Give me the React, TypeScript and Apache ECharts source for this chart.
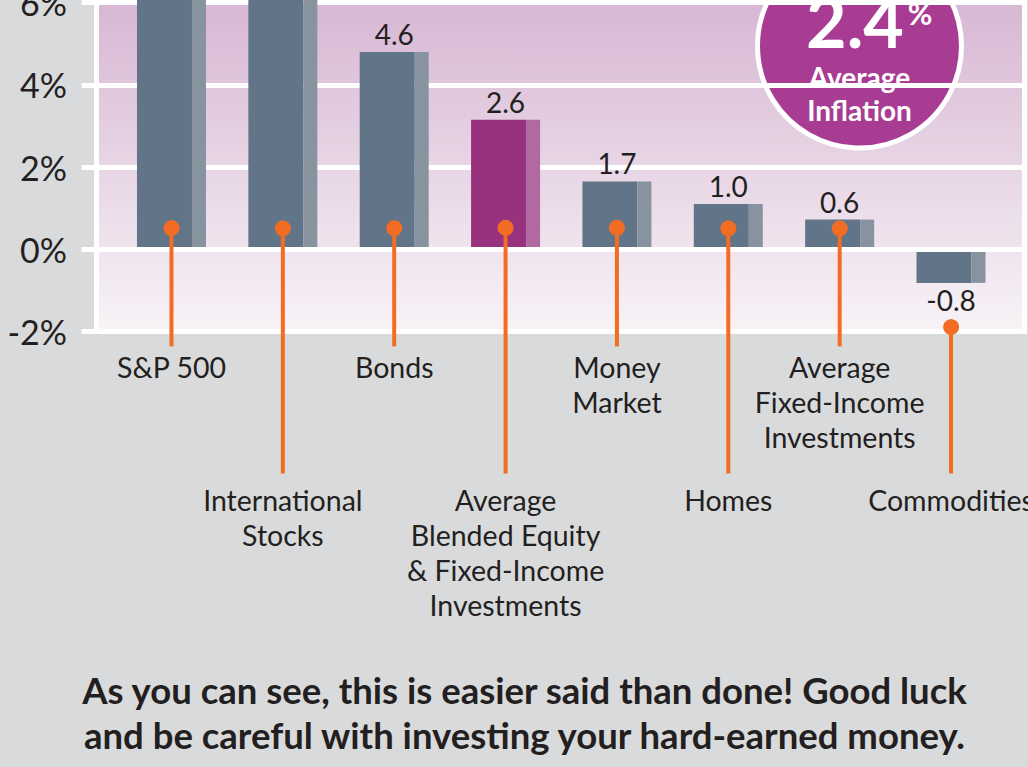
import React, { useEffect, useRef } from 'react';
import * as echarts from 'echarts';

// ---- data ----
const categories = [
  'S&P 500',
  'International\nStocks',
  'Bonds',
  'Average\nBlended Equity\n& Fixed-Income\nInvestments',
  'Money\nMarket',
  'Homes',
  'Average\nFixed-Income\nInvestments',
  'Commodities',
];
// bar heights as drawn (%)
const barHeights = [7.7, 6.6, 4.8, 3.15, 1.65, 1.1, 0.72, -0.82];
// printed value labels (first two are cut off in the picture)
const valueLabels: (string | null)[] = [null, null, '4.6', '2.6', '1.7', '1.0', '0.6', '-0.8'];
const highlightIndex = 3;
const yMin = -2;
const yMax = 6.3;
const yInterval = 2;
const averageInflation = '2.4';
const footnoteLines = [
  'As you can see, this is easier said than done! Good luck',
  'and be careful with investing your hard-earned money.',
];

// ---- styles ----
const BG = '#d9dadc';
const DARK = '#627487';
const LIGHT = '#8893a0';
const PURPLE = '#98327f';
const PURPLE_LIGHT = '#b06aa0';
const ORANGE = '#f26c23';
const INK = '#231f20';
const FONT = 'Lato';

export default function App() {
  const ref = useRef<HTMLDivElement>(null);

  useEffect(() => {
    const chart = echarts.init(ref.current!, null, { renderer: 'svg' });

    const top = -9.73;
    const bottom = 435.6;

    const darkData = barHeights.map((v, i) => ({
      value: v,
      itemStyle: { color: i === highlightIndex ? PURPLE : DARK },
      label: valueLabels[i] == null
        ? { show: false }
        : { show: true, position: v < 0 ? 'bottom' : 'top', distance: v < 0 ? 3 : 4 },
    }));
    const lightData = barHeights.map((v, i) => ({
      value: v,
      itemStyle: { color: i === highlightIndex ? PURPLE_LIGHT : LIGHT },
    }));

    const option: any = {
      animation: false,
      backgroundColor: BG,
      grid: [
        {
          left: 96.5, right: 3.5, top, bottom,
          show: true,
          borderColor: '#ffffff',
          borderWidth: 5,
          backgroundColor: new echarts.graphic.LinearGradient(0, 0, 0, 1, [
            { offset: 0, color: '#d6b5d2' },
            { offset: 1, color: '#f8f3f7' },
          ]),
          containLabel: false,
          outerBoundsMode: 'none',
        },
        {
          left: 115.8, right: 21.3, top, bottom,
          containLabel: false,
          outerBoundsMode: 'none',
        },
      ],
      xAxis: [
        { type: 'category', gridIndex: 0, data: categories, show: false },
        {
          type: 'category',
          gridIndex: 1,
          data: categories,
          axisLine: { show: false },
          axisTick: { show: false },
          axisLabel: {
            interval: 0,
            margin: 18,
            color: INK,
            fontFamily: FONT,
            fontSize: 28.5,
            lineHeight: 35,
            formatter: (val: string, idx: number) =>
              idx % 2 === 1 ? '{g| }\n' + val : val,
            rich: { g: { lineHeight: 133, fontSize: 10 } },
          },
        },
      ],
      yAxis: [
        {
          type: 'value', gridIndex: 0, min: yMin, max: yMax, interval: yInterval,
          axisLine: { show: false },
          axisTick: { show: true, length: 15, lineStyle: { color: '#ffffff', width: 5 } },
          splitLine: { show: true, lineStyle: { color: '#ffffff', width: 5 } },
          axisLabel: {
            formatter: '{value}%',
            showMaxLabel: false,
            margin: 29.5,
            color: INK,
            fontFamily: FONT,
            fontSize: 34,
          },
        },
        {
          type: 'value', gridIndex: 1, min: yMin, max: yMax, interval: yInterval,
          show: false, splitLine: { show: false },
        },
      ],
      series: [
        {
          type: 'bar',
          xAxisIndex: 1, yAxisIndex: 1,
          barWidth: 55,
          barGap: '0%',
          data: darkData,
          label: {
            offset: [7, 0],
            color: INK,
            fontFamily: FONT,
            fontSize: 28,
            formatter: (p: any) => valueLabels[p.dataIndex] ?? '',
          },
        },
        {
          type: 'bar',
          xAxisIndex: 1, yAxisIndex: 1,
          barWidth: 14,
          barGap: '0%',
          data: lightData,
          markLine: {
            silent: true,
            symbol: 'none',
            label: { show: false },
            lineStyle: { color: '#ffffff', width: 5, type: 'solid' },
            data: [{ yAxis: 0 }],
          },
        },
        {
          type: 'custom',
          xAxisIndex: 1, yAxisIndex: 1,
          z: 10,
          clip: false,
          data: barHeights.map((v, i) => [i, v]),
          renderItem: (params: any, api: any) => {
            const i = api.value(0);
            const v = api.value(1);
            const x = api.coord([i, 0])[0];
            const zeroY = api.coord([i, 0])[1];
            const baseY = api.coord([i, yMin])[1];
            const dotY = v >= 0 ? zeroY - 22 : api.coord([i, v])[1] + 43;
            const endY = baseY + (i % 2 === 0 ? 15 : 142);
            return {
              type: 'group',
              children: [
                { type: 'line', shape: { x1: x, y1: dotY, x2: x, y2: endY }, style: { stroke: ORANGE, lineWidth: 4 } },
                { type: 'circle', shape: { cx: x, cy: dotY, r: 8 }, style: { fill: ORANGE } },
              ],
            };
          },
        },
      ],
      graphic: [
        {
          type: 'group',
          children: [
            { type: 'circle', shape: { cx: 859.5, cy: 46, r: 102 }, style: { fill: '#a83c93', stroke: '#ffffff', lineWidth: 5 } },
            {
              type: 'text', x: 855, y: 21,
              style: { text: averageInflation, fill: '#ffffff', fontFamily: FONT, fontWeight: 'bold', fontSize: 70, lineHeight: 48, align: 'center', verticalAlign: 'middle' },
            },
            {
              type: 'text', x: 920, y: 13,
              style: { text: '%', fill: '#ffffff', fontFamily: FONT, fontWeight: 'bold', fontSize: 30, align: 'center', verticalAlign: 'middle' },
            },
            {
              type: 'text', x: 859.5, y: 77,
              style: { text: 'Average', fill: '#ffffff', fontFamily: FONT, fontWeight: 'bold', fontSize: 28, lineHeight: 26, align: 'center', verticalAlign: 'middle' },
            },
            {
              type: 'text', x: 859.5, y: 110,
              style: { text: 'Inflation', fill: '#ffffff', fontFamily: FONT, fontWeight: 'bold', fontSize: 28, lineHeight: 26, align: 'center', verticalAlign: 'middle' },
            },
          ],
        },
        {
          type: 'text', x: 524.5, y: 667,
          style: {
            text: footnoteLines.join('\n'),
            fill: INK, fontFamily: FONT, fontWeight: 'bold', fontSize: 36.5, lineHeight: 45,
            align: 'center', verticalAlign: 'top',
          },
        },
      ],
    };

    chart.setOption(option);
    return () => chart.dispose();
  }, []);

  return (
    <div
      ref={ref}
      style={{ position: 'fixed', left: 0, top: 0, width: 1028, height: 767, background: BG }}
    />
  );
}
